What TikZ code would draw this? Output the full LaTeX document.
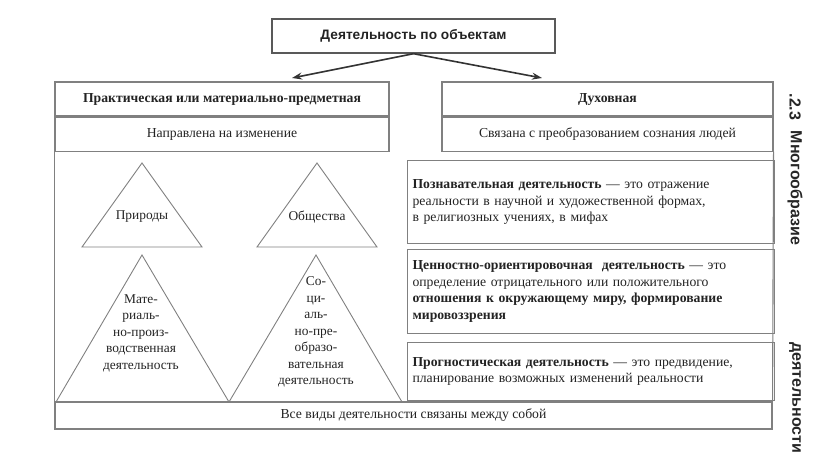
\documentclass[tikz,border=0pt]{standalone}
\usepackage{fontspec}
\setmainfont{Liberation Serif}
\newfontfamily\headsans{Liberation Sans}
\usetikzlibrary{arrows.meta,positioning}
\definecolor{frameGray}{RGB}{128,128,128}
\definecolor{inkDark}{RGB}{35,35,35}
\tikzset{
  dbox/.style  ={rectangle, draw=frameGray, line width=1.1pt, inner sep=0pt,
                 align=center, text=inkDark, font=\fontsize{13.7}{16}\selectfont},
  dhead/.style ={dbox, font=\fontsize{13.7}{16}\selectfont\bfseries},
  dtitle/.style={rectangle, draw=black!65, line width=1.4pt, inner sep=0pt,
                 minimum width=283pt, minimum height=34pt, text=inkDark,
                 font=\headsans\bfseries\fontsize{13.7}{16}\selectfont},
  dnote/.style ={rectangle, draw=frameGray, line width=1.1pt, anchor=north west,
                 inner xsep=5pt, inner ysep=0pt, minimum width=367pt, text width=357pt,
                 align=left, text=inkDark, font=\fontsize{13.7}{16.5}\selectfont},
  dtri/.style  ={draw=frameGray, line width=0.9pt, line join=miter},
  dtritext/.style={align=center, inner sep=0pt, text=inkDark,
                 font=\fontsize{13.4}{16.5}\selectfont},
  dside/.style ={rotate=-90, inner sep=0pt, text=black!85,
                 font=\headsans\bfseries\fontsize{16}{18}\selectfont},
  dlink/.style ={-{Stealth[length=10pt, width=7pt]}, line width=1.6pt, black!80},
}

\begin{document}
\begin{tikzpicture}[x=1pt, y=-1pt]
  \useasboundingbox (0,0) rectangle (816,470);
  % title and the two branches
  \node[dtitle] (title) at (413.5,36) {Деятельность по объектам};
  \coordinate (tipL) at (292,78);
  \coordinate (tipR) at (542,78);
  \draw[dlink] (title.south) -- (tipL);
  \draw[dlink] (title.south) -- (tipR);

  % left column
  \node[dhead, minimum width=334pt, minimum height=34pt] (prakt) at (222,99)
    {Практическая или материально-предметная};
  \node[dbox, minimum width=334pt, minimum height=34pt, below=0pt of prakt] (napr)
    {Направлена на изменение};

  % right column
  \node[dhead, minimum width=331pt, minimum height=34pt] (dukh) at (607.5,99) {Духовная};
  \node[dbox, minimum width=331pt, minimum height=34pt, below=0pt of dukh] (sviaz)
    {Связана с преобразованием сознания людей};

  % common bottom row and side frame
  \node[dbox, minimum width=717pt, minimum height=27pt] (allrow) at (413.5,415.5)
    {Все виды деятельности связаны между собой};
  \draw[frameGray, line width=1.1pt] (napr.south west) -- (allrow.north west);
  \draw[frameGray, line width=1.1pt] (sviaz.south east) -- (allrow.north east);

  % triangles
  \foreach \xa/\xm/\xb/\ya/\yb in {82/142/202/163/247, 257/317/377/163/247,
                                   56/142/229/255/402, 229/316/402/255/402} {
    \draw[dtri] (\xa,\yb) -- (\xm,\ya) -- (\xb,\yb) -- cycle;
  }
  \node[dtritext] (nature)  at (142,217) {Природы};
  \node[dtritext] (society) at (317,217) {Общества};
  \node[dtritext] (matprod) at (141,333)
    {Мате-\\риаль-\\но-произ-\\водственная\\деятельность};
  \node[dtritext] (socpre)  at (316,332)
    {Со-\\ци-\\аль-\\но-пре-\\образо-\\вательная\\деятельность};

  % kinds of spiritual activity
  \node[dnote, minimum height=83pt] (cogn) at (407,160)
    {\textbf{Познавательная деятельность} — это отражение\\
     реальности в научной и художественной формах,\\
     в религиозных учениях, в мифах};
  \node[dnote, minimum height=84pt] (value) at (407,249)
    {\textbf{Ценностно-ориентировочная\ \ деятельность} — это\\
     определение отрицательного или положительного\\
     \textbf{отношения к окружающему миру, формирование}\\
     \textbf{мировоззрения}};
  \node[dnote, minimum height=58pt] (progn) at (407,342)
    {\textbf{Прогностическая деятельность} — это предвидение,\\
     планирование возможных изменений реальности};

  % side caption
  \node[dside] (fignum) at (795,107) {.2.3};
  \node[dside] (capA)   at (795,188) {Многообразие};
  \node[dside] (capB)   at (795,398) {деятельности};
\end{tikzpicture}
\end{document}
